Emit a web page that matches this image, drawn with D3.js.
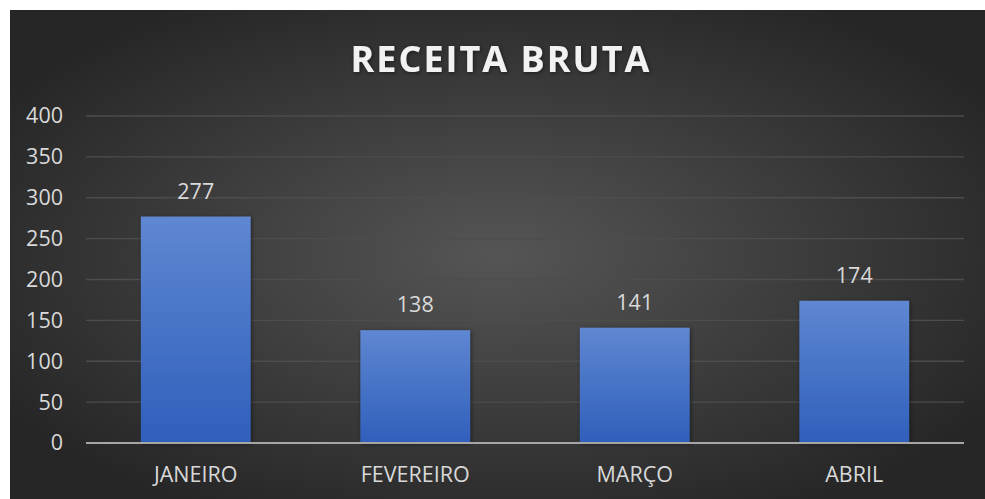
<!DOCTYPE html>
<html><head><meta charset="utf-8">
<script src="https://cdn.jsdelivr.net/npm/d3@7"></script>
<style>html,body{margin:0;padding:0;background:#fff;}svg{display:block;}</style>
</head><body>
<script>
const title = "RECEITA BRUTA";
const categories = ["JANEIRO", "FEVEREIRO", "MARÇO", "ABRIL"];
const values = [277, 138, 141, 174];
const yTicks = [0, 50, 100, 150, 200, 250, 300, 350, 400];

const W = 985, H = 499;
const svg = d3.select("body").append("svg").attr("width", W).attr("height", H);
const defs = svg.append("defs");
const rg = defs.append("radialGradient").attr("id", "bg").attr("cx", "50%").attr("cy", "50%").attr("r", "60%");
rg.append("stop").attr("offset", "0%").attr("stop-color", "#555555");
rg.append("stop").attr("offset", "100%").attr("stop-color", "#262626");
const bgrad = defs.append("linearGradient").attr("id", "bar").attr("x1", 0).attr("x2", 0).attr("y1", 0).attr("y2", 1);
bgrad.append("stop").attr("offset", "0%").attr("stop-color", "#5f87d2");
bgrad.append("stop").attr("offset", "100%").attr("stop-color", "#2f5fbb");
const f = defs.append("filter").attr("id", "sh").attr("x", "-20%").attr("y", "-20%").attr("width", "140%").attr("height", "140%");
f.append("feDropShadow").attr("dx", 1).attr("dy", 1).attr("stdDeviation", 2).attr("flood-color", "#000").attr("flood-opacity", 0.5);

svg.append("rect").attr("x", 10).attr("y", 10).attr("width", W - 10).attr("height", H - 10).attr("fill", "url(#bg)");

const m = {l: 86, r: 964, t: 116, b: 443};
const x = d3.scaleBand().domain(categories).range([m.l, m.r]).paddingInner(0.5).paddingOuter(0.25);
const y = d3.scaleLinear().domain([0, 400]).range([m.b, m.t]);

const font = "'Open Sans', sans-serif";
const fs = "21.5px";

// grid
svg.append("g").selectAll("line").data(yTicks.filter(d => d > 0)).join("line")
  .attr("x1", m.l).attr("x2", m.r).attr("y1", d => y(d)).attr("y2", d => y(d))
  .attr("stroke", "#4d4d4d").attr("stroke-width", 1.3);

// y axis labels
const yAxis = d3.axisLeft(y).tickValues(yTicks).tickSize(0).tickPadding(23);
const ya = svg.append("g").attr("transform", `translate(${m.l},0)`).call(yAxis);
ya.select(".domain").remove();
ya.selectAll("text").attr("fill", "#d9d9d9").style("font-family", font).style("font-size", fs);

// bars
svg.append("g").selectAll("rect").data(values).join("rect")
  .attr("x", (d, i) => x(categories[i])).attr("width", x.bandwidth())
  .attr("y", d => y(d)).attr("height", d => y(0) - y(d))
  .attr("fill", "url(#bar)").attr("filter", "url(#sh)");

// x axis
const xAxis = d3.axisBottom(x).tickSize(0).tickPadding(24);
const xa = svg.append("g").attr("transform", `translate(0,${m.b})`).call(xAxis);
xa.select(".domain").remove();
xa.selectAll("text").attr("fill", "#d9d9d9").style("font-family", font).style("font-size", fs);
svg.append("line").attr("x1", m.l).attr("x2", m.r).attr("y1", y(0)).attr("y2", y(0))
  .attr("stroke", "#a6a6a6").attr("stroke-width", 2);

// data labels
svg.append("g").selectAll("text").data(values).join("text")
  .attr("x", (d, i) => x(categories[i]) + x.bandwidth() / 2).attr("y", d => y(d) - 18)
  .attr("text-anchor", "middle").attr("fill", "#d9d9d9")
  .style("font-family", font).style("font-size", fs).text(d => d);

// title
svg.append("text").attr("x", 501).attr("y", 72).attr("text-anchor", "middle")
  .attr("fill", "#f2f2f2").style("font-family", font).style("font-weight", "bold")
  .style("font-size", "36px").style("letter-spacing", "2px")
  .attr("filter", "url(#sh)").text(title);
</script>
</body></html>
